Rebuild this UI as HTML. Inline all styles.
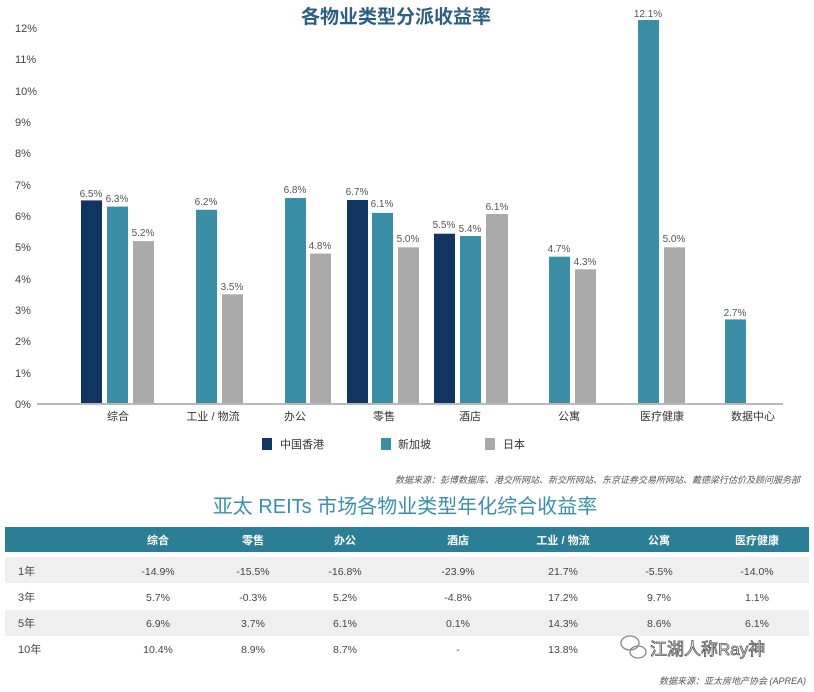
<!DOCTYPE html>
<html><head><meta charset="utf-8"><style>
body{margin:0;background:#fff;}
svg text{font-family:"Liberation Sans","Noto Sans CJK SC",sans-serif;}
</style></head><body>
<svg width="814" height="687" viewBox="0 0 814 687" xmlns="http://www.w3.org/2000/svg">
<text x="396" y="23" text-anchor="middle" font-size="19" font-weight="bold" fill="#2c5f82">各物业类型分派收益率</text>
<g font-size="11" fill="#444" text-anchor="start">
<text x="15" y="32">12%</text><text x="15" y="63">11%</text><text x="15" y="95">10%</text>
<text x="15" y="126">9%</text><text x="15" y="157">8%</text><text x="15" y="189">7%</text>
<text x="15" y="220">6%</text><text x="15" y="251">5%</text><text x="15" y="283">4%</text>
<text x="15" y="314">3%</text><text x="15" y="345">2%</text><text x="15" y="377">1%</text>
<text x="15" y="408">0%</text>
</g>
<g>
<rect x="81" y="200.4" width="21" height="203.6" fill="#0f3560"/>
<rect x="107" y="206.6" width="21" height="197.4" fill="#3a8fa6"/>
<rect x="133" y="241.1" width="21" height="162.9" fill="#aaaaaa"/>
<rect x="196" y="209.8" width="21" height="194.2" fill="#3a8fa6"/>
<rect x="222" y="294.3" width="21" height="109.7" fill="#aaaaaa"/>
<rect x="285" y="198" width="21" height="206" fill="#3a8fa6"/>
<rect x="310" y="253.6" width="21" height="150.4" fill="#aaaaaa"/>
<rect x="347" y="200" width="21" height="204" fill="#0f3560"/>
<rect x="372" y="212.9" width="21" height="191.1" fill="#3a8fa6"/>
<rect x="398" y="247.3" width="21" height="156.7" fill="#aaaaaa"/>
<rect x="434" y="233.7" width="21" height="170.3" fill="#0f3560"/>
<rect x="460" y="236" width="21" height="168" fill="#3a8fa6"/>
<rect x="486" y="214" width="22" height="190" fill="#aaaaaa"/>
<rect x="549" y="256.7" width="21" height="147.3" fill="#3a8fa6"/>
<rect x="575" y="269.3" width="21" height="134.7" fill="#aaaaaa"/>
<rect x="638" y="20" width="21" height="384" fill="#3a8fa6"/>
<rect x="664" y="247.3" width="21" height="156.7" fill="#aaaaaa"/>
<rect x="725" y="319.4" width="21" height="84.6" fill="#3a8fa6"/>
</g>
<g font-size="10" fill="#555" text-anchor="middle">
<text x="91" y="197">6.5%</text><text x="117" y="202">6.3%</text><text x="143" y="236">5.2%</text>
<text x="206" y="205">6.2%</text><text x="232" y="290">3.5%</text>
<text x="295" y="193">6.8%</text><text x="320" y="249">4.8%</text>
<text x="357" y="195">6.7%</text><text x="382" y="207">6.1%</text><text x="408" y="242">5.0%</text>
<text x="444" y="228">5.5%</text><text x="470" y="232">5.4%</text><text x="497" y="210">6.1%</text>
<text x="559" y="252">4.7%</text><text x="585" y="265">4.3%</text>
<text x="648" y="17">12.1%</text><text x="674" y="242">5.0%</text>
<text x="735" y="316">2.7%</text>
</g>
<rect x="37" y="403" width="746" height="2" fill="#b8b8b8"/>
<g font-size="11" fill="#333" text-anchor="middle">
<text x="118" y="420">综合</text><text x="213" y="420">工业 / 物流</text><text x="295" y="420">办公</text>
<text x="384" y="420">零售</text><text x="470" y="420">酒店</text><text x="569" y="420">公寓</text>
<text x="662" y="420">医疗健康</text><text x="753" y="420">数据中心</text>
</g>
<rect x="262" y="438" width="10" height="12" fill="#0f3560"/>
<text x="280" y="448" font-size="11" fill="#333">中国香港</text>
<rect x="381" y="438" width="10" height="12" fill="#3a8fa6"/>
<text x="398" y="448" font-size="11" fill="#333">新加坡</text>
<rect x="485" y="438" width="10" height="12" fill="#aaaaaa"/>
<text x="503" y="448" font-size="11" fill="#333">日本</text>
<text x="800" y="483" text-anchor="end" font-size="9" font-style="italic" fill="#555">数据来源：彭博数据库、港交所网站、新交所网站、东京证券交易所网站、戴德梁行估价及顾问服务部</text>
<text x="405" y="513" text-anchor="middle" font-size="20" fill="#3a90aa">亚太 REITs 市场各物业类型年化综合收益率</text>
<rect x="5" y="527" width="804" height="25" fill="#2a7f96"/>
<g font-size="11" font-weight="bold" fill="#fff" text-anchor="middle">
<text x="158" y="544">综合</text><text x="253" y="544">零售</text><text x="345" y="544">办公</text>
<text x="458" y="544">酒店</text><text x="563" y="544">工业 / 物流</text><text x="659" y="544">公寓</text>
<text x="757" y="544">医疗健康</text>
</g>
<rect x="5" y="557" width="804" height="26" fill="#efefef"/>
<rect x="5" y="610" width="804" height="26" fill="#efefef"/>
<g font-size="11" fill="#444">
<text x="18" y="575">1年</text><text x="18" y="601">3年</text><text x="18" y="627">5年</text><text x="18" y="653">10年</text>
</g>
<g font-size="10.5" fill="#444" text-anchor="middle">
<text x="158" y="575">-14.9%</text><text x="253" y="575">-15.5%</text><text x="345" y="575">-16.8%</text><text x="458" y="575">-23.9%</text><text x="563" y="575">21.7%</text><text x="659" y="575">-5.5%</text><text x="757" y="575">-14.0%</text>
<text x="158" y="601">5.7%</text><text x="253" y="601">-0.3%</text><text x="345" y="601">5.2%</text><text x="458" y="601">-4.8%</text><text x="563" y="601">17.2%</text><text x="659" y="601">9.7%</text><text x="757" y="601">1.1%</text>
<text x="158" y="627">6.9%</text><text x="253" y="627">3.7%</text><text x="345" y="627">6.1%</text><text x="458" y="627">0.1%</text><text x="563" y="627">14.3%</text><text x="659" y="627">8.6%</text><text x="757" y="627">6.1%</text>
<text x="158" y="653">10.4%</text><text x="253" y="653">8.9%</text><text x="345" y="653">8.7%</text><text x="458" y="653">-</text><text x="563" y="653">13.8%</text>
</g>
<g fill="none" stroke="#888" stroke-width="1.3">
<ellipse cx="630" cy="643" rx="9" ry="7"/><ellipse cx="638" cy="652" rx="8" ry="6"/>
</g>
<text x="650" y="655" font-size="17" fill="#fff" stroke="#555" stroke-width="0.8">江湖人称Ray神</text>
<text x="806" y="684" text-anchor="end" font-size="9" font-style="italic" fill="#555">数据来源：亚太房地产协会 (APREA)</text>
</svg>
</body></html>
